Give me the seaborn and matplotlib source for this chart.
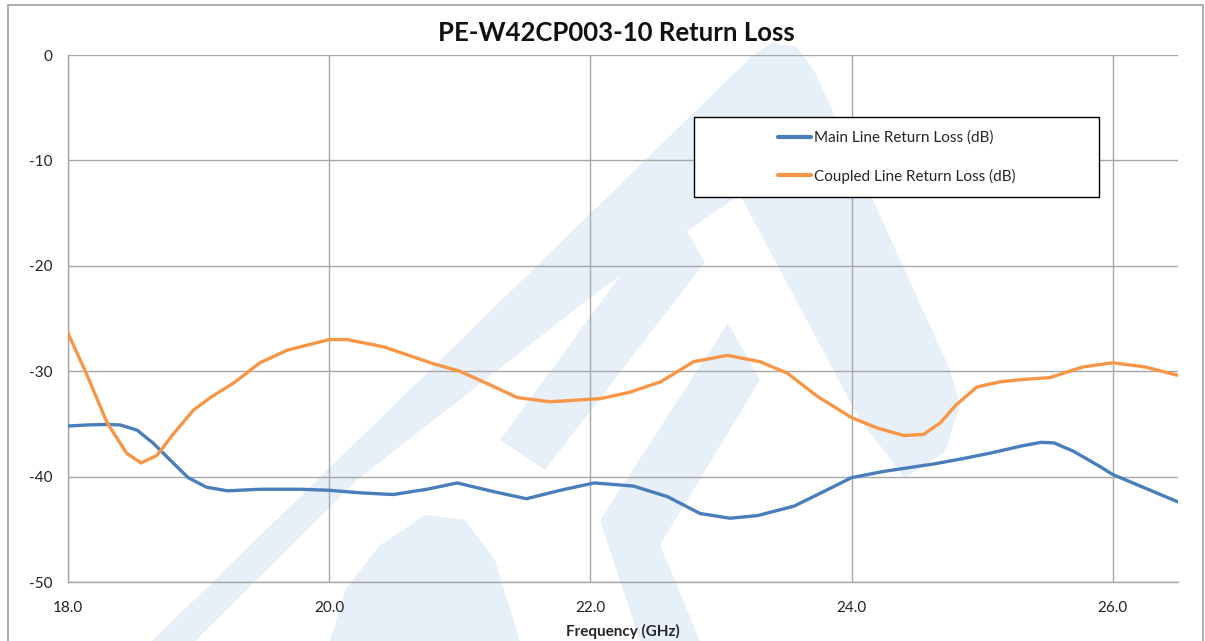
import numpy as np
import pandas as pd
import matplotlib
matplotlib.use("Agg")
import matplotlib.pyplot as plt
import seaborn as sns
from matplotlib.patches import Polygon, Rectangle
from matplotlib.lines import Line2D

# --- Data ---
main_freq = [18.0, 18.15, 18.30, 18.40, 18.53, 18.65, 18.78, 18.92, 19.06, 19.22, 19.47,
             19.78, 20.0, 20.25, 20.49, 20.75, 20.98, 21.25, 21.51, 21.77, 22.03, 22.33,
             22.59, 22.84, 23.07, 23.28, 23.56, 23.79, 24.0, 24.25, 24.63, 24.85, 25.07,
             25.30, 25.45, 25.55, 25.70, 25.91, 26.0, 26.25, 26.5]
main_rl = [-35.2, -35.1, -35.05, -35.1, -35.6, -36.8, -38.4, -40.1, -41.0, -41.35, -41.2,
           -41.2, -41.3, -41.55, -41.7, -41.2, -40.6, -41.4, -42.1, -41.3, -40.6, -40.9,
           -41.9, -43.5, -43.95, -43.7, -42.8, -41.4, -40.1, -39.5, -38.8, -38.3, -37.75,
           -37.1, -36.75, -36.8, -37.6, -39.1, -39.8, -41.1, -42.4]

coupled_freq = [18.0, 18.14, 18.30, 18.45, 18.56, 18.68, 18.81, 18.96, 19.09, 19.27, 19.47,
                19.68, 20.0, 20.14, 20.42, 20.80, 21.0, 21.25, 21.44, 21.69, 22.08, 22.30,
                22.54, 22.79, 23.05, 23.30, 23.51, 23.74, 24.0, 24.20, 24.40, 24.55, 24.68,
                24.80, 24.96, 25.14, 25.30, 25.52, 25.77, 26.0, 26.25, 26.5]
coupled_rl = [-26.4, -30.2, -34.9, -37.8, -38.7, -38.0, -35.9, -33.7, -32.5, -31.1, -29.2,
              -28.0, -27.0, -27.0, -27.7, -29.3, -30.0, -31.4, -32.5, -32.9, -32.6, -32.0,
              -31.0, -29.1, -28.5, -29.1, -30.2, -32.4, -34.4, -35.4, -36.1, -36.0, -34.9,
              -33.2, -31.5, -31.0, -30.8, -30.6, -29.6, -29.2, -29.6, -30.4]

main_label = "Main Line Return Loss (dB)"
coupled_label = "Coupled Line Return Loss (dB)"
x_ticks = [18.0, 20.0, 22.0, 24.0, 26.0]
y_ticks = [0, -10, -20, -30, -40, -50]

BLUE = "#4a7ebb"
ORANGE = "#f79646"
GRID = "#a6a6a6"
WATER = "#e7eff8"

sns.set_style("white")
plt.rcParams["font.family"] = ["Lato", "DejaVu Sans"]

W, H = 1205, 641
fig = plt.figure(figsize=(W / 100, H / 100), dpi=100)


def px(points):
    # pixel coords (origin top-left) -> figure fraction
    return [(x / W, 1 - y / H) for x, y in points]


# --- faint logo watermark behind the plot (rough outline) ---
water_shapes = [
    # big arch
    [(152, 641), (195, 641), (357, 480), (600, 290), (740, 195), (860, 420), (905, 478),
     (945, 452), (960, 405), (950, 370), (815, 72), (797, 47), (772, 43), (753, 55)],
    # inner stripe
    [(500, 440), (672, 205), (705, 262), (545, 470)],
    # lower wedge
    [(600, 520), (728, 323), (760, 380), (660, 545), (700, 641), (640, 641)],
    # bowl at the bottom
    [(330, 641), (345, 590), (380, 545), (425, 515), (465, 520), (495, 560), (520, 641)],
]
for shp in water_shapes:
    fig.patches.append(Polygon(px(shp), closed=True, transform=fig.transFigure,
                               facecolor=WATER, edgecolor="none", zorder=-5))

# outer chart frame
fig.patches.append(Rectangle((8 / W, -0.1), (W - 10) / W, 1 - 5 / H + 0.1,
                             transform=fig.transFigure, facecolor="none",
                             edgecolor="#a0a0a0", linewidth=1.2, zorder=-4))

ax = fig.add_axes([68 / W, 1 - 582 / H, (1178 - 68) / W, (582 - 55) / H])
ax.set_facecolor("none")

main_df = pd.DataFrame({"freq": main_freq, "rl": main_rl})
coupled_df = pd.DataFrame({"freq": coupled_freq, "rl": coupled_rl})

sns.lineplot(data=main_df, x="freq", y="rl", ax=ax, color=BLUE, linewidth=2.4,
             solid_capstyle="round", solid_joinstyle="round", zorder=3)
sns.lineplot(data=coupled_df, x="freq", y="rl", ax=ax, color=ORANGE, linewidth=2.4,
             solid_capstyle="round", solid_joinstyle="round", zorder=4)

ax.set_xlim(18.0, 26.5)
ax.set_ylim(-50, 0)
ax.set_xticks(x_ticks)
ax.set_xticklabels([f"{t:.1f}" for t in x_ticks])
ax.set_yticks(y_ticks)
ax.set_yticklabels([str(t) for t in y_ticks])
ax.grid(True, color=GRID, linewidth=1.0)
ax.set_axisbelow(True)
for side in ["top", "right"]:
    ax.spines[side].set_visible(False)
for side in ["left", "bottom"]:
    ax.spines[side].set_color(GRID)
    ax.spines[side].set_linewidth(1.0)
ax.tick_params(axis="y", length=5, color=GRID, labelsize=11, labelcolor="#222222", pad=6)
ax.tick_params(axis="x", length=0, labelsize=11, labelcolor="#222222", pad=14)
ax.set_xlabel("Frequency (GHz)", fontsize=11, fontweight="bold", labelpad=6)
ax.set_ylabel("")

fig.text(616 / W, 1 - 33 / H, "PE-W42CP003-10 Return Loss", ha="center", va="center",
         fontsize=18.5, fontweight="bold", color="#111111")

# legend box
fig.patches.append(Rectangle((694 / W, 1 - 197 / H), (1099 - 694) / W, (197 - 117) / H,
                             transform=fig.transFigure, facecolor="white",
                             edgecolor="black", linewidth=1.0, zorder=5))
handles = [Line2D([], [], color=BLUE, linewidth=3.0),
           Line2D([], [], color=ORANGE, linewidth=3.0)]
leg = fig.legend(handles, [main_label, coupled_label], loc="upper left",
                 bbox_to_anchor=(770 / W, 1 - 123 / H), frameon=False, fontsize=11,
                 handlelength=2.2, handletextpad=0.15, labelspacing=1.55, borderpad=0)
leg.set_zorder(6)

fig.savefig("out.png", dpi=100)
